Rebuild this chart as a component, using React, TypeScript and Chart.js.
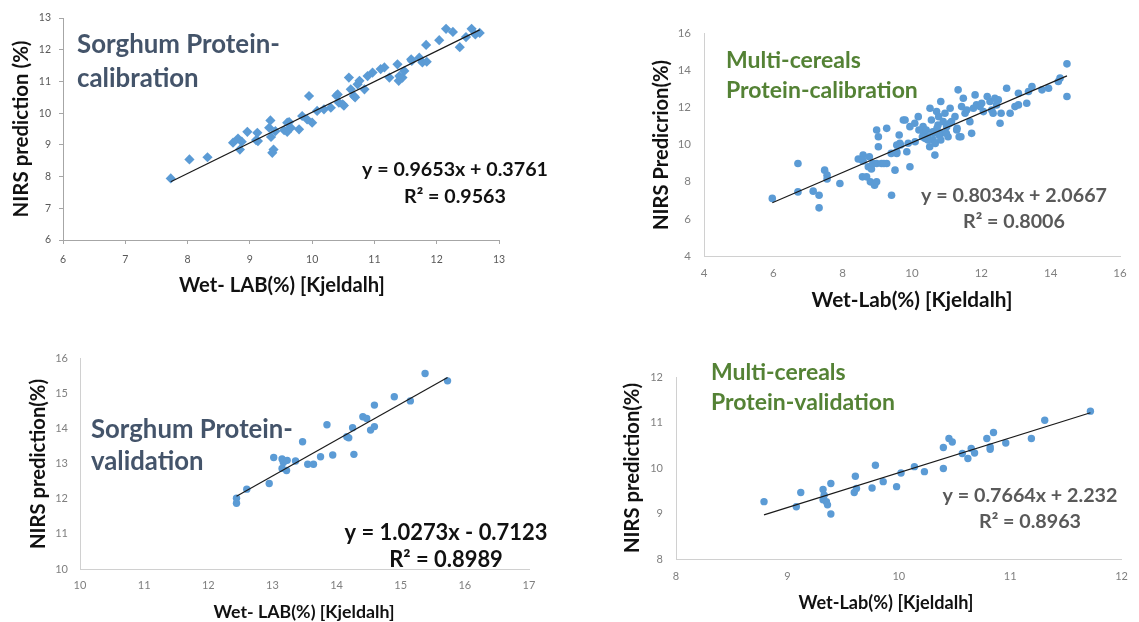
import { useEffect, useRef } from "react";
import { Chart, registerables } from "chart.js";
Chart.register(...registerables);

const FONT = "Lato, 'Open Sans', sans-serif";

// ---------- Panel 1: Sorghum Protein-calibration ----------
const sorghumCalX = [7.73, 8.03, 8.32, 8.73, 8.81, 8.84, 8.87, 8.96, 9.10, 9.12, 9.13, 9.31, 9.33, 9.34, 9.36, 9.38, 9.41, 9.55, 9.60, 9.60, 9.63, 9.66, 9.79, 9.84, 9.92, 9.95, 10.00, 10.08, 10.19, 10.30, 10.39, 10.41, 10.43, 10.49, 10.51, 10.59, 10.62, 10.67, 10.69, 10.73, 10.76, 10.84, 10.89, 10.97, 11.10, 11.16, 11.24, 11.37, 11.39, 11.40, 11.45, 11.48, 11.59, 11.60, 11.72, 11.77, 11.83, 11.84, 12.04, 12.15, 12.26, 12.37, 12.47, 12.56, 12.62, 12.69];
const sorghumCalY = [7.94, 8.54, 8.61, 9.07, 9.20, 8.85, 9.10, 9.41, 9.15, 9.38, 9.12, 9.54, 9.77, 9.25, 8.75, 8.85, 9.43, 9.46, 9.70, 9.41, 9.72, 9.54, 9.49, 9.91, 9.80, 10.54, 9.70, 10.07, 10.12, 10.17, 10.55, 10.59, 10.33, 10.28, 10.24, 11.12, 10.75, 10.54, 10.50, 10.91, 11.02, 10.75, 11.17, 11.28, 11.39, 11.44, 11.12, 11.54, 11.02, 11.17, 11.12, 11.33, 11.70, 11.65, 11.75, 11.60, 12.15, 11.62, 12.30, 12.66, 12.56, 12.08, 12.40, 12.66, 12.48, 12.53];
const sorghumCalFit = [0.9653, 0.3761];

// ---------- Panel 2: Multi-cereals Protein-calibration ----------
const multiCalX = [5.97, 6.71, 6.71, 7.15, 7.32, 7.32, 7.48, 7.55, 7.55, 7.92, 8.45, 8.59, 8.59, 8.57, 8.69, 8.74, 8.83, 8.87, 8.80, 8.92, 8.98, 8.98, 9.03, 9.03, 8.98, 9.12, 9.27, 9.27, 9.41, 9.51, 9.56, 9.56, 9.63, 9.75, 9.80, 9.85, 9.89, 9.94, 9.65, 9.94, 10.08, 10.18, 10.32, 10.34, 10.37, 10.41, 10.46, 10.52, 10.56, 10.60, 10.61, 10.66, 10.71, 10.75, 10.77, 10.83, 10.85, 10.90, 10.95, 11.00, 11.04, 11.10, 11.14, 11.24, 11.29, 11.33, 11.36, 11.43, 11.48, 11.53, 11.58, 11.67, 11.72, 11.77, 11.82, 11.86, 11.96, 12.01, 12.06, 12.17, 12.25, 12.30, 12.34, 12.39, 12.44, 12.49, 12.54, 12.73, 12.83, 12.97, 13.07, 13.07, 13.31, 13.36, 13.46, 13.75, 13.94, 14.22, 14.27, 14.47, 14.47, 10.20, 10.30, 10.46, 10.51, 10.62, 10.67, 10.72, 10.78, 10.83, 10.99, 11.09, 11.30, 11.41, 10.09, 9.67, 9.56, 9.40, 9.19, 8.77, 8.56, 12.57];
const multiCalY = [7.10, 8.98, 7.45, 7.49, 7.27, 6.59, 8.62, 8.35, 8.14, 7.90, 9.22, 9.43, 9.11, 8.26, 8.26, 8.80, 8.68, 8.98, 7.99, 7.81, 7.99, 10.78, 10.42, 9.88, 8.98, 8.98, 10.87, 8.98, 7.27, 8.62, 9.52, 9.97, 10.51, 11.32, 11.32, 9.61, 10.07, 8.80, 10.06, 10.96, 11.14, 11.50, 10.96, 10.60, 10.33, 10.78, 10.42, 11.95, 11.32, 10.69, 10.24, 9.43, 11.77, 11.05, 11.50, 12.31, 10.60, 11.23, 11.68, 10.96, 10.42, 11.95, 11.23, 11.50, 10.78, 12.94, 10.42, 12.04, 12.49, 11.68, 11.86, 11.23, 10.60, 11.95, 12.67, 12.13, 12.04, 12.22, 11.77, 12.58, 12.31, 11.86, 11.68, 12.49, 12.13, 12.40, 11.14, 13.03, 11.68, 12.04, 12.13, 12.76, 12.22, 12.85, 13.12, 12.94, 13.03, 13.39, 13.57, 14.34, 12.58, 10.78, 10.42, 10.24, 9.88, 10.60, 10.06, 10.87, 10.51, 10.24, 10.60, 11.14, 10.87, 10.42, 10.15, 9.97, 9.61, 9.52, 8.98, 9.34, 9.16, 11.68];
const multiCalFit = [0.8034, 2.0667];

// ---------- Panel 3: Sorghum Protein-validation ----------
const sorghumValX = [12.44, 12.44, 12.60, 12.95, 13.02, 13.15, 13.17, 13.23, 13.15, 13.22, 13.36, 13.47, 13.55, 13.64, 13.75, 13.85, 13.94, 14.16, 14.19, 14.25, 14.27, 14.41, 14.47, 14.53, 14.59, 14.59, 14.90, 15.15, 15.38, 15.73];
const sorghumValY = [12.01, 11.87, 12.27, 12.43, 13.17, 13.13, 13.03, 13.09, 12.86, 12.80, 13.07, 13.62, 12.98, 12.98, 13.19, 14.10, 13.24, 13.76, 13.73, 14.02, 13.26, 14.33, 14.28, 13.95, 14.05, 14.66, 14.90, 14.78, 15.56, 15.35];
const sorghumValFit = [1.0273, -0.7123];

// ---------- Panel 4: Multi-cereals Protein-validation ----------
const multiValX = [8.79, 9.08, 9.12, 9.32, 9.33, 9.32, 9.35, 9.36, 9.39, 9.39, 9.60, 9.61, 9.62, 9.76, 9.79, 9.86, 9.98, 10.02, 10.14, 10.23, 10.40, 10.40, 10.45, 10.48, 10.57, 10.62, 10.65, 10.68, 10.79, 10.85, 10.82, 10.82, 10.96, 11.19, 11.31, 11.72];
const multiValY = [9.26, 9.15, 9.46, 9.53, 9.40, 9.30, 9.26, 9.19, 9.66, 8.99, 9.46, 9.82, 9.55, 9.56, 10.06, 9.70, 9.59, 9.89, 10.03, 9.92, 9.99, 10.45, 10.65, 10.57, 10.32, 10.21, 10.43, 10.33, 10.65, 10.78, 10.46, 10.41, 10.55, 10.65, 11.05, 11.25];
const multiValFit = [0.7664, 2.232];

const BLUE = "#5b9bd5";
const SLATE = "#44546a";
const GREEN = "#548235";

type TextItem = {
  lines: string[];
  x: number;
  y: number;
  gap: number;
  fit: string;
  width: number;
  weight: string;
  color: string;
  align: CanvasTextAlign;
  baseline: CanvasTextBaseline;
  rotate?: boolean;
};

type Panel = {
  left: number; top: number; width: number; height: number;
  xs: number[]; ys: number[]; fit: number[];
  xMin: number; xMax: number; xStep: number;
  yMin: number; yMax: number; yStep: number;
  padTop: number; padRight: number; yAxisWidth: number; xAxisHeight: number;
  pointStyle: string; pointRadius: number;
  tickMarks: boolean; tickSize: number; tickColor: string; axisColor: string;
  xTickPad: number; yTickPad: number;
  texts: TextItem[];
};

function textPlugin(items: TextItem[]) {
  return {
    id: "panelTexts",
    afterDraw(chart: any) {
      const ctx: CanvasRenderingContext2D = chart.ctx;
      for (const it of items) {
        ctx.save();
        ctx.font = `${it.weight} 100px ${FONT}`;
        const size = (100 * it.width) / ctx.measureText(it.fit).width;
        ctx.font = `${it.weight} ${size}px ${FONT}`;
        ctx.fillStyle = it.color;
        ctx.textAlign = it.align;
        ctx.textBaseline = it.baseline;
        ctx.translate(it.x, it.y);
        if (it.rotate) ctx.rotate(-Math.PI / 2);
        it.lines.forEach((l, i) => ctx.fillText(l, 0, i * it.gap));
        ctx.restore();
      }
    },
  };
}

const panels: Panel[] = [
  {
    left: 0, top: 0, width: 570, height: 310,
    xs: sorghumCalX, ys: sorghumCalY, fit: sorghumCalFit,
    xMin: 6, xMax: 13, xStep: 1, yMin: 6, yMax: 13, yStep: 1,
    padTop: 18, padRight: 71, yAxisWidth: 63, xAxisHeight: 70,
    pointStyle: "rectRot", pointRadius: 5.1,
    tickMarks: true, tickSize: 10.5, tickColor: "#595959", axisColor: "#a6a6a6",
    xTickPad: 9, yTickPad: 8,
    texts: [
      { lines: ["Sorghum Protein-", "calibration"], x: 77, y: 53, gap: 34, fit: "Sorghum Protein-", width: 203, weight: "bold", color: SLATE, align: "left", baseline: "alphabetic" },
      { lines: ["y = 0.9653x + 0.3761", "R² = 0.9563"], x: 455, y: 176, gap: 27, fit: "y = 0.9653x + 0.3761", width: 186, weight: "bold", color: "#111", align: "center", baseline: "alphabetic" },
      { lines: ["NIRS prediction (%)"], x: 21, y: 129, gap: 0, fit: "NIRS prediction (%)", width: 177, weight: "bold", color: "#111", align: "center", baseline: "middle", rotate: true },
      { lines: ["Wet- LAB(%) [Kjeldalh]"], x: 282, y: 285, gap: 0, fit: "Wet- LAB(%) [Kjeldalh]", width: 206, weight: "bold", color: "#111", align: "center", baseline: "middle" },
    ],
  },
  {
    left: 570, top: 0, width: 569, height: 320,
    xs: multiCalX, ys: multiCalY, fit: multiCalFit,
    xMin: 4, xMax: 16, xStep: 2, yMin: 4, yMax: 16, yStep: 2,
    padTop: 33, padRight: 19, yAxisWidth: 134, xAxisHeight: 64,
    pointStyle: "circle", pointRadius: 3.8,
    tickMarks: false, tickSize: 11.5, tickColor: "#7f7f7f", axisColor: "#d0d0d0",
    xTickPad: 10, yTickPad: 13,
    texts: [
      { lines: ["Multi-cereals", "Protein-calibration"], x: 156, y: 68, gap: 30, fit: "Protein-calibration", width: 192, weight: "bold", color: GREEN, align: "left", baseline: "alphabetic" },
      { lines: ["y = 0.8034x + 2.0667", "R² = 0.8006"], x: 444, y: 202, gap: 26, fit: "y = 0.8034x + 2.0667", width: 186, weight: "bold", color: "#595959", align: "center", baseline: "alphabetic" },
      { lines: ["NIRS Predicrion(%)"], x: 91, y: 145, gap: 0, fit: "NIRS Predicrion(%)", width: 170, weight: "bold", color: "#111", align: "center", baseline: "middle", rotate: true },
      { lines: ["Wet-Lab(%) [Kjeldalh]"], x: 342, y: 300, gap: 0, fit: "Wet-Lab(%) [Kjeldalh]", width: 201, weight: "bold", color: "#111", align: "center", baseline: "middle" },
    ],
  },
  {
    left: 0, top: 330, width: 570, height: 292,
    xs: sorghumValX, ys: sorghumValY, fit: sorghumValFit,
    xMin: 10, xMax: 17, xStep: 1, yMin: 10, yMax: 16, yStep: 1,
    padTop: 28, padRight: 41, yAxisWidth: 80, xAxisHeight: 53,
    pointStyle: "circle", pointRadius: 3.7,
    tickMarks: false, tickSize: 11, tickColor: "#7f7f7f", axisColor: "#d0d0d0",
    xTickPad: 10, yTickPad: 12,
    texts: [
      { lines: ["Sorghum Protein-", "validation"], x: 91, y: 108, gap: 32, fit: "Sorghum Protein-", width: 202, weight: "bold", color: SLATE, align: "left", baseline: "alphabetic" },
      { lines: ["y = 1.0273x - 0.7123", "R² = 0.8989"], x: 446, y: 210, gap: 27, fit: "y = 1.0273x - 0.7123", width: 203, weight: "bold", color: "#111", align: "center", baseline: "alphabetic" },
      { lines: ["NIRS prediction(%)"], x: 38, y: 134, gap: 0, fit: "NIRS prediction(%)", width: 170, weight: "bold", color: "#111", align: "center", baseline: "middle", rotate: true },
      { lines: ["Wet- LAB(%) [Kjeldalh]"], x: 304, y: 282, gap: 0, fit: "Wet- LAB(%) [Kjeldalh]", width: 181, weight: "bold", color: "#111", align: "center", baseline: "middle" },
    ],
  },
  {
    left: 570, top: 330, width: 569, height: 292,
    xs: multiValX, ys: multiValY, fit: multiValFit,
    xMin: 8, xMax: 12, xStep: 1, yMin: 8, yMax: 12, yStep: 1,
    padTop: 47, padRight: 11, yAxisWidth: 106, xAxisHeight: 63,
    pointStyle: "circle", pointRadius: 3.7,
    tickMarks: false, tickSize: 11, tickColor: "#7f7f7f", axisColor: "#d0d0d0",
    xTickPad: 11, yTickPad: 13,
    texts: [
      { lines: ["Multi-cereals", "Protein-validation"], x: 141, y: 50, gap: 30, fit: "Protein-validation", width: 184, weight: "bold", color: GREEN, align: "left", baseline: "alphabetic" },
      { lines: ["y = 0.7664x + 2.232", "R² = 0.8963"], x: 460, y: 172, gap: 26, fit: "y = 0.7664x + 2.232", width: 175, weight: "bold", color: "#595959", align: "center", baseline: "alphabetic" },
      { lines: ["NIRS prediction(%)"], x: 62, y: 138, gap: 0, fit: "NIRS prediction(%)", width: 170, weight: "bold", color: "#111", align: "center", baseline: "middle", rotate: true },
      { lines: ["Wet-Lab(%) [Kjeldalh]"], x: 316, y: 273, gap: 0, fit: "Wet-Lab(%) [Kjeldalh]", width: 175, weight: "bold", color: "#111", align: "center", baseline: "middle" },
    ],
  },
];

function PanelChart({ p }: { p: Panel }) {
  const ref = useRef<HTMLCanvasElement | null>(null);
  useEffect(() => {
    if (!ref.current) return;
    const points = p.xs.map((x, i) => ({ x, y: p.ys[i] }));
    const lo = Math.min(...p.xs);
    const hi = Math.max(...p.xs);
    const trend = [
      { x: lo, y: p.fit[0] * lo + p.fit[1] },
      { x: hi, y: p.fit[0] * hi + p.fit[1] },
    ];
    const tickFont = { family: FONT, size: p.tickSize };
    const chart = new Chart(ref.current, {
      type: "scatter",
      data: {
        datasets: [
          {
            data: trend,
            showLine: true,
            borderColor: "#1a1a1a",
            borderWidth: 1.2,
            pointRadius: 0,
            order: 0,
          } as any,
          {
            data: points,
            pointStyle: p.pointStyle as any,
            pointRadius: p.pointRadius,
            backgroundColor: BLUE,
            borderColor: BLUE,
            borderWidth: 0,
            order: 1,
          },
        ],
      },
      options: {
        animation: false,
        responsive: false,
        layout: { padding: { top: p.padTop, right: p.padRight, left: 0, bottom: 0 } },
        plugins: { legend: { display: false }, tooltip: { enabled: false } },
        scales: {
          x: {
            type: "linear",
            min: p.xMin,
            max: p.xMax,
            ticks: { stepSize: p.xStep, color: p.tickColor, font: tickFont, padding: p.xTickPad },
            grid: { display: p.tickMarks, drawOnChartArea: false, drawTicks: p.tickMarks, tickLength: 4, color: p.axisColor },
            border: { display: true, color: p.axisColor, width: 1 },
            afterFit: (s: any) => { s.height = p.xAxisHeight; },
          },
          y: {
            type: "linear",
            min: p.yMin,
            max: p.yMax,
            ticks: { stepSize: p.yStep, color: p.tickColor, font: tickFont, padding: p.yTickPad },
            grid: { display: p.tickMarks, drawOnChartArea: false, drawTicks: p.tickMarks, tickLength: 4, color: p.axisColor },
            border: { display: true, color: p.axisColor, width: 1 },
            afterFit: (s: any) => { s.width = p.yAxisWidth; },
          },
        },
      },
      plugins: [textPlugin(p.texts)],
    });
    return () => chart.destroy();
  }, [p]);
  return (
    <canvas
      ref={ref}
      width={p.width}
      height={p.height}
      style={{ position: "absolute", left: p.left, top: p.top, width: p.width, height: p.height }}
    />
  );
}

export default function App() {
  useEffect(() => {
    document.body.style.margin = "0";
  }, []);
  return (
    <div style={{ position: "relative", width: 1139, height: 622, background: "#fff", overflow: "hidden" }}>
      {panels.map((p, i) => (
        <PanelChart key={i} p={p} />
      ))}
    </div>
  );
}
